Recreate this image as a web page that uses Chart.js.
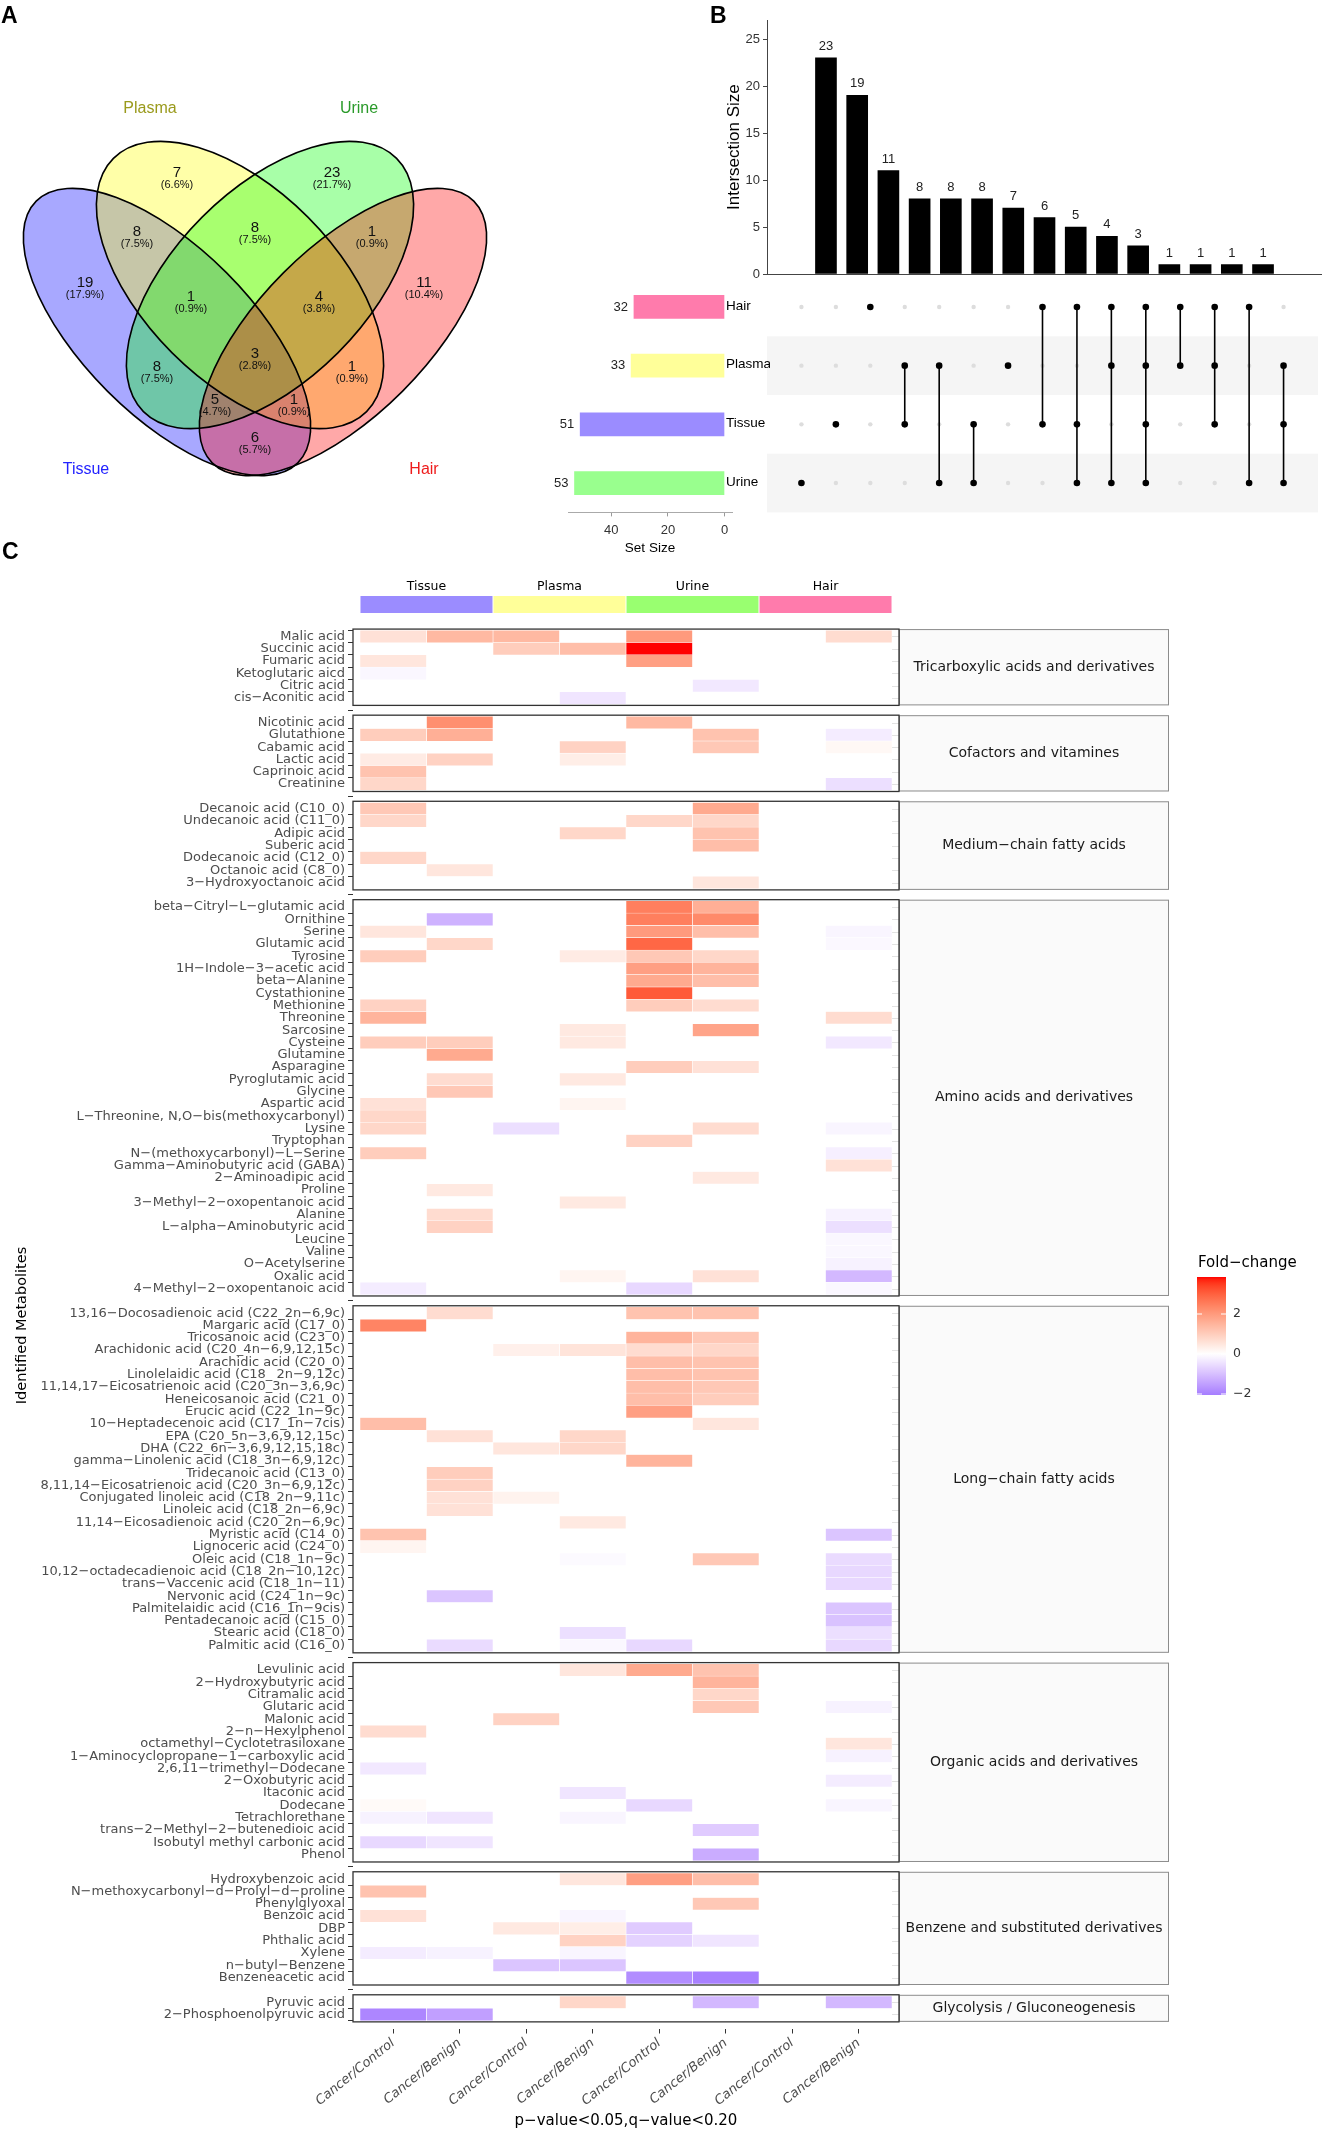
<!DOCTYPE html>
<html>
<head>
<meta charset="utf-8">
<script src="https://cdn.jsdelivr.net/npm/chart.js@4.4.1/dist/chart.umd.min.js"></script>
<style>
  html, body { margin: 0; padding: 0; background: #fff; }
  #page { position: relative; width: 1322px; height: 2130px; overflow: hidden; }
  canvas { position: absolute; }
</style>
</head>
<body>
<div id="page">
  <canvas id="venn" width="540" height="500" style="left:0;top:0;width:540px;height:500px"></canvas>
  <canvas id="upsetBars" width="632" height="290" style="left:690px;top:0;width:632px;height:290px"></canvas>
  <canvas id="upsetMatrix" width="632" height="260" style="left:690px;top:270px;width:632px;height:260px"></canvas>
  <canvas id="setSize" width="230" height="290" style="left:540px;top:270px;width:230px;height:290px"></canvas>
  <canvas id="heat" width="1322" height="1590" style="left:0;top:540px;width:1322px;height:1590px"></canvas>
</div>
<script>
// ---------- data ----------
// A: venn regions (T = Tissue, P = Plasma, U = Urine, H = Hair)
const vennSets = ['Tissue', 'Plasma', 'Urine', 'Hair'];
const vennRegions = ['T', 'P', 'U', 'H', 'TP', 'PU', 'UH', 'TU', 'PH', 'TH', 'TPU', 'PUH', 'TUH', 'TPH', 'TPUH'];
const vennCounts = [19, 7, 23, 11, 8, 8, 1, 8, 1, 6, 1, 4, 5, 1, 3];
const vennTotal = 106;

// B: upset
const upsetSizes = [23, 19, 11, 8, 8, 8, 7, 6, 5, 4, 3, 1, 1, 1, 1];
const upsetMembers = [
  ['Urine'], ['Tissue'], ['Hair'], ['Plasma', 'Tissue'], ['Plasma', 'Urine'], ['Tissue', 'Urine'],
  ['Plasma'], ['Hair', 'Tissue'], ['Hair', 'Tissue', 'Urine'], ['Hair', 'Plasma', 'Urine'],
  ['Hair', 'Plasma', 'Tissue', 'Urine'], ['Hair', 'Plasma'], ['Hair', 'Plasma', 'Tissue'],
  ['Hair', 'Urine'], ['Plasma', 'Tissue', 'Urine']
];
const setNames = ['Hair', 'Plasma', 'Tissue', 'Urine'];
const setSizes = [32, 33, 51, 53];
const setSizeTicks = [0, 20, 40];
const intersectionTicks = [0, 5, 10, 15, 20, 25];

// C: heatmap
const sampleTypes = ['Tissue', 'Plasma', 'Urine', 'Hair'];
const comparisons = ['Cancer/Control', 'Cancer/Benign', 'Cancer/Control', 'Cancer/Benign',
                     'Cancer/Control', 'Cancer/Benign', 'Cancer/Control', 'Cancer/Benign'];
const groupTitles = ['Tricarboxylic acids and derivatives', 'Cofactors and vitamines', 'Medium−chain fatty acids',
  'Amino acids and derivatives', 'Long−chain fatty acids', 'Organic acids and derivatives',
  'Benzene and substituted derivatives', 'Glycolysis / Gluconeogenesis'];
const legendTicks = [2, 0, -2];
const fcMax = 3.85, fcMin = -2.05;

const tcaNames = ['Malic acid', 'Succinic acid', 'Fumaric acid', 'Ketoglutaric aicd', 'Citric acid', 'cis−Aconitic acid'];
const tcaFC = [
  [0.6, 1.4, 1.4, null, 2.0, null, null, 0.7],
  [null, null, 1.0, 1.3, 3.85, null, null, null],
  [0.5, null, null, null, 1.9, null, null, null],
  [-0.12, null, null, null, null, null, null, null],
  [null, null, null, null, null, -0.35, null, null],
  [null, null, null, -0.4, null, null, null, null]
];
const cofNames = ['Nicotinic acid', 'Glutathione', 'Cabamic acid', 'Lactic acid', 'Caprinoic acid', 'Creatinine'];
const cofFC = [
  [null, 2.2, null, null, 1.4, null, null, null],
  [1.0, 1.6, null, null, null, 1.2, null, -0.3],
  [null, null, null, 0.9, null, 1.1, null, 0.15],
  [0.4, 0.9, null, 0.35, null, null, null, null],
  [1.2, null, null, null, null, null, null, null],
  [0.8, null, null, null, null, null, null, -0.5]
];
const mcfaNames = ['Decanoic acid (C10_0)', 'Undecanoic acid (C11_0)', 'Adipic acid', 'Suberic acid',
  'Dodecanoic acid (C12_0)', 'Octanoic acid (C8_0)', '3−Hydroxyoctanoic acid'];
const mcfaFC = [
  [1.1, null, null, null, null, 1.7, null, null],
  [0.8, null, null, null, 0.8, 0.8, null, null],
  [null, null, null, 0.8, null, 1.2, null, null],
  [null, null, null, null, null, 1.3, null, null],
  [0.8, null, null, null, null, null, null, null],
  [null, 0.5, null, null, null, null, null, null],
  [null, null, null, null, null, 0.5, null, null]
];
const aminoNames = ['beta−Citryl−L−glutamic acid', 'Ornithine', 'Serine', 'Glutamic acid', 'Tyrosine',
  '1H−Indole−3−acetic acid', 'beta−Alanine', 'Cystathionine', 'Methionine', 'Threonine', 'Sarcosine',
  'Cysteine', 'Glutamine', 'Asparagine', 'Pyroglutamic acid', 'Glycine', 'Aspartic acid',
  'L−Threonine, N,O−bis(methoxycarbonyl)', 'Lysine', 'Tryptophan', 'N−(methoxycarbonyl)−L−Serine',
  'Gamma−Aminobutyric acid (GABA)', '2−Aminoadipic acid', 'Proline', '3−Methyl−2−oxopentanoic acid',
  'Alanine', 'L−alpha−Aminobutyric acid', 'Leucine', 'Valine', 'O−Acetylserine', 'Oxalic acid',
  '4−Methyl−2−oxopentanoic acid'];
const aminoFC = [
  [null, null, null, null, 2.5, 1.6, null, null],
  [null, -1.2, null, null, 2.5, 2.3, null, null],
  [0.5, null, null, null, 2.0, 1.3, null, -0.15],
  [null, 0.8, null, null, 2.9, null, null, -0.1],
  [1.0, null, null, 0.4, 1.1, 0.8, null, null],
  [null, null, null, null, 1.9, 1.5, null, null],
  [null, null, null, null, 1.7, 1.3, null, null],
  [null, null, null, null, 3.1, null, null, null],
  [0.9, null, null, null, 1.0, 0.7, null, null],
  [1.5, null, null, null, null, null, null, 0.7],
  [null, null, null, 0.45, null, 1.8, null, null],
  [1.0, 1.0, null, 0.45, null, null, null, -0.35],
  [null, 1.7, null, null, null, null, null, null],
  [null, null, null, null, 1.0, 0.6, null, null],
  [null, 0.7, null, 0.45, null, null, null, null],
  [null, 1.1, null, null, null, null, null, null],
  [0.6, null, null, 0.2, null, null, null, null],
  [0.8, null, null, null, null, null, null, null],
  [0.8, null, -0.5, null, null, 0.7, null, -0.15],
  [null, null, null, null, 0.9, null, null, null],
  [1.0, null, null, null, null, null, null, -0.25],
  [null, null, null, null, null, null, null, 0.6],
  [null, null, null, null, null, 0.45, null, null],
  [null, 0.45, null, null, null, null, null, null],
  [null, null, null, 0.45, null, null, null, null],
  [null, 0.7, null, null, null, null, null, -0.2],
  [null, 0.9, null, null, null, null, null, -0.5],
  [null, null, null, null, null, null, null, -0.12],
  [null, null, null, null, null, null, null, -0.12],
  [null, null, null, null, null, null, null, -0.2],
  [null, null, null, 0.2, null, 0.6, null, -1.1],
  [-0.3, null, null, null, -0.6, null, null, -0.12]
];
const lcfaNames = ['13,16−Docosadienoic acid (C22_2n−6,9c)', 'Margaric acid (C17_0)', 'Tricosanoic acid (C23_0)',
  'Arachidonic acid (C20_4n−6,9,12,15c)', 'Arachidic acid (C20_0)', 'Linolelaidic acid (C18_ 2n−9,12c)',
  '11,14,17−Eicosatrienoic acid (C20_3n−3,6,9c)', 'Heneicosanoic acid (C21_0)', 'Erucic acid (C22_1n−9c)',
  '10−Heptadecenoic acid (C17_1n−7cis)', 'EPA (C20_5n−3,6,9,12,15c)', 'DHA (C22_6n−3,6,9,12,15,18c)',
  'gamma−Linolenic acid (C18_3n−6,9,12c)', 'Tridecanoic acid (C13_0)', '8,11,14−Eicosatrienoic acid (C20_3n−6,9,12c)',
  'Conjugated linoleic acid (C18_2n−9,11c)', 'Linoleic acid (C18_2n−6,9c)', '11,14−Eicosadienoic acid (C20_2n−6,9c)',
  'Myristic acid (C14_0)', 'Lignoceric acid (C24_0)', 'Oleic acid (C18_1n−9c)',
  '10,12−octadecadienoic acid (C18_2n−10,12c)', 'trans−Vaccenic acid (C18_1n−11)', 'Nervonic acid (C24_1n−9c)',
  'Palmitelaidic acid (C16_1n−9cis)', 'Pentadecanoic acid (C15_0)', 'Stearic acid (C18_0)', 'Palmitic acid (C16_0)'];
const lcfaFC = [
  [null, 0.7, null, null, 1.2, 1.2, null, null],
  [2.4, null, null, null, null, null, null, null],
  [null, null, null, null, 1.5, 1.1, null, null],
  [null, null, 0.3, 0.55, 0.7, 0.8, null, null],
  [null, null, null, null, 1.3, 1.2, null, null],
  [null, null, null, null, 1.3, 1.2, null, null],
  [null, null, null, null, 1.3, 1.1, null, null],
  [null, null, null, null, 1.3, 1.0, null, null],
  [null, null, null, null, 1.9, null, null, null],
  [1.3, null, null, null, null, 0.5, null, null],
  [null, 0.6, null, 0.8, null, null, null, null],
  [null, null, 0.5, 0.8, null, null, null, null],
  [null, null, null, null, 1.5, null, null, null],
  [null, 1.0, null, null, null, null, null, null],
  [null, 0.9, null, null, null, null, null, null],
  [null, 0.6, 0.25, null, null, null, null, null],
  [null, 0.6, null, null, null, null, null, null],
  [null, null, null, 0.45, null, null, null, null],
  [1.2, null, null, null, null, null, null, -0.9],
  [0.2, null, null, null, null, null, null, null],
  [null, null, null, -0.08, null, 1.1, null, -0.55],
  [null, null, null, null, null, null, null, -0.6],
  [null, null, null, null, null, null, null, -0.6],
  [null, -0.9, null, null, null, null, null, null],
  [null, null, null, null, null, null, null, -0.9],
  [null, null, null, null, null, null, null, -0.95],
  [null, null, null, -0.5, null, null, null, -0.5],
  [null, -0.55, null, -0.12, -0.6, null, null, -0.6]
];
const orgNames = ['Levulinic acid', '2−Hydroxybutyric acid', 'Citramalic acid', 'Glutaric acid', 'Malonic acid',
  '2−n−Hexylphenol', 'octamethyl−Cyclotetrasiloxane', '1−Aminocyclopropane−1−carboxylic acid',
  '2,6,11−trimethyl−Dodecane', '2−Oxobutyric acid', 'Itaconic acid', 'Dodecane', 'Tetrachlorethane',
  'trans−2−Methyl−2−butenedioic acid', 'Isobutyl methyl carbonic acid', 'Phenol'];
const orgFC = [
  [null, null, null, 0.5, 1.7, 1.2, null, null],
  [null, null, null, null, null, 1.5, null, null],
  [null, null, null, null, null, 0.8, null, null],
  [null, null, null, null, null, 1.1, null, -0.2],
  [null, null, 0.9, null, null, null, null, null],
  [0.7, null, null, null, null, null, null, null],
  [null, null, null, null, null, null, null, 0.5],
  [null, null, null, null, null, null, null, -0.2],
  [-0.35, null, null, null, null, null, null, null],
  [null, null, null, null, null, null, null, -0.3],
  [null, null, null, -0.4, null, null, null, null],
  [0.1, null, null, null, -0.6, null, null, -0.15],
  [-0.2, -0.4, null, -0.15, null, null, null, null],
  [null, null, null, null, null, -0.8, null, null],
  [-0.6, -0.4, null, null, null, null, null, null],
  [null, null, null, null, null, -1.3, null, null]
];
const benzNames = ['Hydroxybenzoic acid', 'N−methoxycarbonyl−d−Prolyl−d−proline', 'Phenylglyoxal', 'Benzoic acid',
  'DBP', 'Phthalic acid', 'Xylene', 'n−butyl−Benzene', 'Benzeneacetic acid'];
const benzFC = [
  [null, null, null, 0.5, 1.9, 1.3, null, null],
  [1.2, null, null, null, null, null, null, null],
  [null, null, null, null, null, 1.1, null, null],
  [0.6, null, null, -0.15, null, null, null, null],
  [null, null, 0.45, 0.35, -0.8, null, null, null],
  [null, null, null, 0.9, -0.7, -0.4, null, null],
  [-0.3, -0.2, null, -0.15, null, null, null, null],
  [null, null, -0.9, -0.9, null, null, null, null],
  [null, null, null, null, -1.8, -2.0, null, null]
];
const glyNames = ['Pyruvic acid', '2−Phosphoenolpyruvic acid'];
const glyFC = [
  [null, null, null, 0.8, null, -1.1, null, -1.1],
  [-1.9, -1.5, null, null, null, null, null, null]
];

// ---------- styles / layout ----------
const SANS = '"Liberation Sans", Arial, Helvetica, sans-serif';
const DEJAVU = '"DejaVu Sans", "Liberation Sans", sans-serif';
Chart.defaults.font.family = SANS;
Chart.defaults.color = '#333';
Chart.defaults.animation = false;

const vennShapes = [   // Tissue, Plasma, Urine, Hair
  { cx: 167, cy: 332, a: 185, b: 84, rot: 45, fill: 'rgba(0,0,255,0.34)' },
  { cx: 240, cy: 285, a: 179, b: 96, rot: 45, fill: 'rgba(255,255,0,0.34)' },
  { cx: 270, cy: 285, a: 179, b: 96, rot: -45, fill: 'rgba(0,255,0,0.34)' },
  { cx: 343, cy: 332, a: 185, b: 84, rot: -45, fill: 'rgba(255,0,0,0.34)' }
];
const vennLabelPos = [[85, 283], [177, 173], [332, 173], [424, 283], [137, 232], [255, 228], [372, 232],
  [157, 367], [352, 367], [255, 438], [191, 297], [319, 297], [215, 400], [294, 400], [255, 354]];
const vennSetPos = [[86, 470], [150, 109], [359, 109], [424, 470]];
const vennSetColors = ['#2323ff', '#9a9a1c', '#2a9a2a', '#ee1c1c'];

const setColors = ['#FF7BAC', '#FFFF99', '#9B8CFF', '#99FF8E'];
const headerColors = ['#9B8CFF', '#FFFF99', '#99FF70', '#FF7BAC'];
const lowColor = [165, 125, 255], highColor = [255, 0, 0];

// ---------- colour scale (Lab interpolation) ----------
function lin(c) { c /= 255; return c <= 0.04045 ? c / 12.92 : Math.pow((c + 0.055) / 1.055, 2.4); }
function gam(c) { const v = c <= 0.0031308 ? 12.92 * c : 1.055 * Math.pow(c, 1 / 2.4) - 0.055; return Math.round(Math.max(0, Math.min(1, v)) * 255); }
function toLab(rgb) {
  const R = lin(rgb[0]), G = lin(rgb[1]), B = lin(rgb[2]);
  const X = (0.4124 * R + 0.3576 * G + 0.1805 * B) / 0.95047, Y = 0.2126 * R + 0.7152 * G + 0.0722 * B,
    Z = (0.0193 * R + 0.1192 * G + 0.9505 * B) / 1.08883;
  const f = t => t > 0.008856 ? Math.cbrt(t) : 7.787 * t + 16 / 116;
  return [116 * f(Y) - 16, 500 * (f(X) - f(Y)), 200 * (f(Y) - f(Z))];
}
function fromLab(lab) {
  const fy = (lab[0] + 16) / 116, fx = fy + lab[1] / 500, fz = fy - lab[2] / 200;
  const fi = t => t > 0.206893 ? t * t * t : (t - 16 / 116) / 7.787;
  const X = fi(fx) * 0.95047, Y = fi(fy), Z = fi(fz) * 1.08883;
  return [gam(3.2406 * X - 1.5372 * Y - 0.4986 * Z), gam(-0.9689 * X + 1.8758 * Y + 0.0415 * Z),
          gam(0.0557 * X - 0.2040 * Y + 1.0570 * Z)];
}
const whiteLab = toLab([255, 255, 255]), redLab = toLab(highColor), lowLab = toLab(lowColor);
function foldColor(v) {
  const t = v >= 0 ? Math.min(v / fcMax, 1) : Math.min(v / fcMin, 1);
  const end = v >= 0 ? redLab : lowLab;
  const c = fromLab(whiteLab.map((w, i) => w + (end[i] - w) * t));
  return `rgb(${c[0]},${c[1]},${c[2]})`;
}

// ---------- A: venn ----------
const vennPlugin = {
  id: 'venn',
  beforeDatasetsDraw(chart) {
    const { ctx, scales: { x, y } } = chart;
    const k = Math.abs(x.getPixelForValue(1) - x.getPixelForValue(0));
    const path = s => {
      ctx.beginPath();
      ctx.ellipse(x.getPixelForValue(s.cx), y.getPixelForValue(s.cy), s.a * k, s.b * k, s.rot * Math.PI / 180, 0, Math.PI * 2);
    };
    ctx.save();
    vennShapes.forEach(s => { path(s); ctx.fillStyle = s.fill; ctx.fill(); });
    ctx.strokeStyle = '#000';
    ctx.lineWidth = 1.6;
    vennShapes.forEach(s => { path(s); ctx.stroke(); });
    ctx.restore();
  },
  afterDatasetsDraw(chart) {
    const { ctx, scales: { x, y } } = chart;
    const meta = chart.getDatasetMeta(0);
    ctx.save();
    ctx.textAlign = 'center';
    ctx.textBaseline = 'middle';
    ctx.fillStyle = '#111';
    meta.data.forEach((el, i) => {
      ctx.font = '15px ' + SANS;
      ctx.fillText(vennCounts[i], el.x, el.y);
      ctx.font = '11px ' + SANS;
      ctx.fillText('(' + (vennCounts[i] / vennTotal * 100).toFixed(1) + '%)', el.x, el.y + 12);
    });
    ctx.font = '16px ' + SANS;
    vennSets.forEach((s, i) => {
      ctx.fillStyle = vennSetColors[i];
      ctx.fillText(s, x.getPixelForValue(vennSetPos[i][0]), y.getPixelForValue(vennSetPos[i][1]));
    });
    ctx.fillStyle = '#000';
    ctx.font = 'bold 23px ' + SANS;
    ctx.textAlign = 'left';
    ctx.textBaseline = 'alphabetic';
    ctx.fillText('A', 1, 23);
    ctx.restore();
  }
};

new Chart(document.getElementById('venn'), {
  type: 'scatter',
  data: { datasets: [{ data: vennRegions.map((r, i) => ({ x: vennLabelPos[i][0], y: vennLabelPos[i][1] })), pointRadius: 0 }] },
  options: {
    responsive: false, devicePixelRatio: 1,
    layout: { padding: 0 },
    plugins: { legend: { display: false }, tooltip: { enabled: false } },
    scales: {
      x: { type: 'linear', min: 0, max: 540, display: false },
      y: { type: 'linear', min: 0, max: 500, reverse: true, display: false }
    }
  },
  plugins: [vennPlugin]
});

// ---------- B: intersection bars ----------
const barLabels = {
  id: 'barLabels',
  afterDatasetsDraw(chart) {
    const ctx = chart.ctx;
    ctx.save();
    ctx.font = '13px ' + SANS;
    ctx.fillStyle = '#222';
    ctx.textAlign = 'center';
    ctx.textBaseline = 'bottom';
    chart.getDatasetMeta(0).data.forEach((el, i) => ctx.fillText(upsetSizes[i], el.x, el.y - 5));
    ctx.fillStyle = '#000';
    ctx.font = 'bold 23px ' + SANS;
    ctx.textAlign = 'left';
    ctx.textBaseline = 'alphabetic';
    ctx.fillText('B', 20, 23);
    ctx.restore();
  }
};

new Chart(document.getElementById('upsetBars'), {
  type: 'bar',
  data: { datasets: [{ data: upsetSizes.map((v, i) => ({ x: i, y: v })), backgroundColor: '#000', barThickness: 21, borderWidth: 0 }] },
  options: {
    responsive: false, devicePixelRatio: 1,
    layout: { padding: { left: 30, top: 20.2, bottom: 16, right: 0 } },
    plugins: { legend: { display: false }, tooltip: { enabled: false } },
    scales: {
      x: {
        type: 'linear', min: -1, max: 15,
        ticks: { display: false }, grid: { display: false },
        border: { display: true, color: '#444', width: 1 },
        afterFit: s => { s.height = 0; }
      },
      y: {
        type: 'linear', min: 0, max: 27,
        afterBuildTicks: s => { s.ticks = intersectionTicks.map(v => ({ value: v })); },
        ticks: { color: '#333', font: { size: 13 }, padding: 3 },
        grid: { drawOnChartArea: false, color: '#444', tickLength: 4 },
        border: { color: '#444', width: 1 },
        title: { display: true, text: 'Intersection Size', color: '#000', font: { size: 17 }, padding: { top: 4, bottom: 0 } },
        afterFit: s => { s.width = 47; }
      }
    }
  },
  plugins: [barLabels]
});

// ---------- B: membership matrix ----------
const rowOf = name => setNames.length - 1 - setNames.indexOf(name);
const greyDots = [], blackDots = [];
upsetMembers.forEach((m, i) => {
  setNames.forEach(s => greyDots.push({ x: i, y: rowOf(s) }));
  m.forEach(s => blackDots.push({ x: i, y: rowOf(s) }));
});
const linkSets = upsetMembers.map((m, i) => {
  const ys = m.map(rowOf);
  return {
    data: [{ x: i, y: Math.min(...ys) }, { x: i, y: Math.max(...ys) }],
    showLine: true, borderColor: '#000', borderWidth: 1.6, pointRadius: 0, order: 1
  };
}).filter((d, i) => upsetMembers[i].length > 1);

const matrixBands = {
  id: 'matrixBands',
  beforeDatasetsDraw(chart) {
    const { ctx, chartArea: ca, scales: { y } } = chart;
    ctx.save();
    ctx.fillStyle = '#F5F5F5';
    ['Plasma', 'Urine'].forEach(s => {
      const r = rowOf(s);
      const t = y.getPixelForValue(r + 0.5), b = y.getPixelForValue(r - 0.5);
      ctx.fillRect(ca.left, t, ca.right - ca.left, b - t);
    });
    ctx.restore();
  }
};

new Chart(document.getElementById('upsetMatrix'), {
  type: 'scatter',
  data: {
    datasets: [
      { data: blackDots, pointRadius: 3.3, backgroundColor: '#000', borderWidth: 0, order: 0 },
      ...linkSets,
      { data: greyDots, pointRadius: 2.2, backgroundColor: '#DDDDDD', borderWidth: 0, order: 2 }
    ]
  },
  options: {
    responsive: false, devicePixelRatio: 1,
    layout: { padding: { left: 77, right: 0, top: 7.6, bottom: 17.6 } },
    plugins: { legend: { display: false }, tooltip: { enabled: false } },
    scales: {
      x: { type: 'linear', min: -1, max: 15, display: false },
      y: { type: 'linear', min: -0.5, max: 3.5, display: false }
    }
  },
  plugins: [matrixBands]
});

// ---------- B: set sizes ----------
const setLabels = {
  id: 'setLabels',
  afterDatasetsDraw(chart) {
    const ctx = chart.ctx;
    ctx.save();
    ctx.textBaseline = 'middle';
    chart.getDatasetMeta(0).data.forEach((el, i) => {
      ctx.font = '13px ' + SANS;
      ctx.fillStyle = '#222';
      ctx.textAlign = 'right';
      ctx.fillText(setSizes[i], Math.min(el.x, el.base) - 6, el.y);
      ctx.font = '13.5px ' + SANS;
      ctx.fillStyle = '#000';
      ctx.textAlign = 'left';
      ctx.fillText(setNames[i], Math.max(el.x, el.base) + 2, el.y - 1);
    });
    ctx.restore();
  }
};

new Chart(document.getElementById('setSize'), {
  type: 'bar',
  data: { labels: setNames, datasets: [{ data: setSizes, backgroundColor: setColors, barThickness: 23, borderWidth: 0 }] },
  options: {
    indexAxis: 'y',
    responsive: false, devicePixelRatio: 1,
    layout: { padding: { left: 28, right: 38, top: 7.6, bottom: 2.6 } },
    plugins: { legend: { display: false }, tooltip: { enabled: false } },
    scales: {
      y: { display: false },
      x: {
        type: 'linear', reverse: true, min: -2.65, max: 55.3,
        afterBuildTicks: s => { s.ticks = setSizeTicks.map(v => ({ value: v })); },
        ticks: { color: '#333', font: { size: 13 }, padding: 6 },
        grid: { drawOnChartArea: false, color: '#999', tickLength: 4 },
        border: { color: '#aaa', width: 1 },
        title: { display: true, text: 'Set Size', color: '#000', font: { size: 13.5 }, padding: { top: 0, bottom: 1 } },
        afterFit: s => { s.height = 45; }
      }
    }
  },
  plugins: [setLabels]
});

// ---------- C: heatmap ----------
const groupRows = [[tcaNames, tcaFC], [cofNames, cofFC], [mcfaNames, mcfaFC], [aminoNames, aminoFC],
  [lcfaNames, lcfaFC], [orgNames, orgFC], [benzNames, benzFC], [glyNames, glyFC]];
const groupGap = 0.796;   // extra row units between facet panels
const rows = [], panels = [];
let pos = 0;
groupRows.forEach(([names, fc], g) => {
  const first = pos;
  names.forEach((n, i) => { rows.push({ name: n, pos: pos, fc: fc[i] }); pos += 1; });
  panels.push({ title: groupTitles[g], first: first, last: pos - 1 });
  pos += 0.2 + groupGap;
});
const lastPos = rows[rows.length - 1].pos;

const heatDatasets = comparisons.map((c, col) => ({
  data: rows.filter(r => r.fc[col] !== null).map(r => ({ y: r.pos, x: [col - 0.5, col + 0.5], v: r.fc[col] })),
  backgroundColor: ctx => ctx.raw ? foldColor(ctx.raw.v) : '#fff',
  borderColor: '#fff', borderWidth: 0.6, borderSkipped: false,
  barThickness: 12.6, grouped: false
}));

const heatDecor = {
  id: 'heatDecor',
  beforeDatasetsDraw(chart) {
    const { ctx, chartArea: ca, scales: { x, y } } = chart;
    ctx.save();
    ctx.strokeStyle = '#e2e2e2';
    ctx.lineWidth = 1;
    rows.forEach(r => {
      const py = Math.round(y.getPixelForValue(r.pos)) + 0.5;
      ctx.beginPath(); ctx.moveTo(x.getPixelForValue(7.5), py); ctx.lineTo(ca.right, py); ctx.stroke();
    });
    ctx.restore();
  },
  afterDatasetsDraw(chart) {
    const { ctx, chartArea: ca, scales: { x, y } } = chart;
    const stripW = 270;
    ctx.save();
    panels.forEach(p => {
      const top = y.getPixelForValue(p.first - 0.6), bot = y.getPixelForValue(p.last + 0.6);
      ctx.fillStyle = '#FAFAFA';
      ctx.fillRect(ca.right, top, stripW, bot - top);
      ctx.strokeStyle = '#8c8c8c';
      ctx.lineWidth = 1;
      ctx.strokeRect(ca.right + 0.5, top + 0.5, stripW - 1, bot - top - 1);
      ctx.fillStyle = '#1a1a1a';
      ctx.font = '14px ' + DEJAVU;
      ctx.textAlign = 'center';
      ctx.textBaseline = 'middle';
      ctx.fillText(p.title, ca.right + stripW / 2, (top + bot) / 2);
      ctx.strokeStyle = '#333';
      ctx.lineWidth = 1.3;
      ctx.strokeRect(ca.left, top, ca.right - ca.left, bot - top);
    });
    // header bars over the columns
    sampleTypes.forEach((s, i) => {
      const l = x.getPixelForValue(2 * i - 0.5), r = x.getPixelForValue(2 * i + 1.5);
      ctx.fillStyle = headerColors[i];
      ctx.fillRect(l + 0.5, 56, r - l - 1, 17);
      ctx.fillStyle = '#000';
      ctx.font = '12.5px ' + DEJAVU;
      ctx.textAlign = 'center';
      ctx.textBaseline = 'middle';
      ctx.fillText(s, (l + r) / 2, 47);
    });
    // colour legend
    const lx = 1197, lw = 29, zeroY = 814, perUnit = 20;
    const yTop = zeroY - fcMax * perUnit, yBot = zeroY - fcMin * perUnit;
    const grad = ctx.createLinearGradient(0, yTop, 0, yBot);
    for (let k = 0; k <= 40; k++) grad.addColorStop(k / 40, foldColor(fcMax - (fcMax - fcMin) * k / 40));
    ctx.fillStyle = grad;
    ctx.fillRect(lx, yTop, lw, yBot - yTop);
    ctx.strokeStyle = '#fff';
    ctx.lineWidth = 1;
    ctx.font = '12.5px ' + DEJAVU;
    ctx.textAlign = 'left';
    ctx.textBaseline = 'middle';
    legendTicks.forEach(v => {
      const py = zeroY - v * perUnit;
      ctx.beginPath(); ctx.moveTo(lx, py); ctx.lineTo(lx + 5, py); ctx.moveTo(lx + lw - 5, py); ctx.lineTo(lx + lw, py); ctx.stroke();
      ctx.fillStyle = '#333';
      ctx.fillText(v < 0 ? '−' + Math.abs(v) : String(v), lx + lw + 7, py);
    });
    ctx.fillStyle = '#000';
    ctx.font = '15px ' + DEJAVU;
    ctx.fillText('Fold−change', lx + 1, 723);
    // panel letter
    ctx.font = 'bold 23px ' + SANS;
    ctx.textBaseline = 'alphabetic';
    ctx.fillText('C', 2, 19);
    ctx.restore();
  }
};

new Chart(document.getElementById('heat'), {
  type: 'bar',
  data: { datasets: heatDatasets },
  options: {
    indexAxis: 'y',
    responsive: false, devicePixelRatio: 1,
    layout: { padding: { left: 0, right: 423, top: 82.45, bottom: 0 } },
    plugins: { legend: { display: false }, tooltip: { enabled: false } },
    scales: {
      x: {
        type: 'linear', min: -0.605, max: 7.605,
        afterBuildTicks: s => { s.ticks = comparisons.map((c, i) => ({ value: i })); },
        ticks: {
          autoSkip: false, minRotation: 39, maxRotation: 39, padding: 2,
          color: '#4d4d4d', font: { family: DEJAVU, size: 13, style: 'italic' },
          callback: (v, i) => comparisons[i]
        },
        grid: { drawOnChartArea: false, color: '#333', tickLength: 5 },
        border: { display: false },
        title: { display: true, text: 'p−value<0.05,q−value<0.20', color: '#000', font: { family: DEJAVU, size: 15 }, padding: { top: 0, bottom: 0 } },
        afterFit: s => { s.height = 101.5; }
      },
      y: {
        type: 'linear', reverse: true, min: -0.6, max: lastPos + 0.6,
        afterBuildTicks: s => { s.ticks = rows.map(r => ({ value: r.pos })); },
        ticks: {
          autoSkip: false, padding: 3, color: '#4d4d4d', font: { family: DEJAVU, size: 13 },
          callback: (v, i) => rows[i].name
        },
        grid: { drawOnChartArea: false, color: '#333', tickLength: 5 },
        border: { display: false },
        title: { display: true, text: 'Identified Metabolites', color: '#000', font: { family: DEJAVU, size: 14.5 }, padding: { top: 14, bottom: 0 } },
        afterFit: s => { s.width = 353; }
      }
    }
  },
  plugins: [heatDecor]
});
</script>
</body>
</html>
